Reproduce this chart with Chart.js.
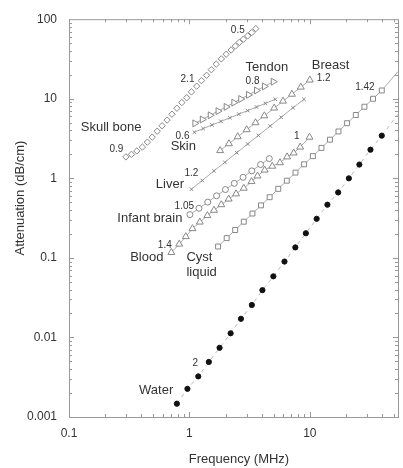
<!DOCTYPE html>
<html>
<head>
<meta charset="utf-8">
<script src="https://cdn.jsdelivr.net/npm/chart.js@4.4.1/dist/chart.umd.min.js"></script>
<style>
  html, body { margin: 0; padding: 0; background: #fff; }
</style>
</head>
<body>
<canvas id="myChart" width="403" height="468"></canvas>
<script>
// tick labels
const xTicks = [0.1, 1, 10];
const yTicks = [0.001, 0.01, 0.1, 1, 10, 100];

// attenuation data (frequency in MHz, attenuation in dB/cm)
const skullFreq = [0.297, 0.330, 0.366, 0.407, 0.447, 0.491, 0.540, 0.593, 0.652, 0.716, 0.787, 0.865, 0.950, 1.04,
  1.15, 1.26, 1.39, 1.52, 1.67, 1.84, 2.02, 2.22, 2.41, 2.60, 2.81, 3.05, 3.30, 3.56];
const skullAtten = [1.86, 2.00, 2.21, 2.47, 2.85, 3.29, 3.91, 4.58, 5.40, 6.40, 7.60, 8.95, 10.3, 12.2,
  14.4, 16.9, 19.7, 23.2, 27.2, 31.7, 36.3, 41.0, 46.0, 51.1, 56.1, 61.7, 68.0, 76.2];

const tendonFreq = [1.11, 1.28, 1.49, 1.73, 2.02, 2.34, 2.67, 3.10, 3.61, 4.20, 4.97];
const tendonAtten = [4.91, 5.49, 6.20, 7.00, 7.90, 8.94, 9.93, 11.2, 12.7, 14.3, 16.4];

const skinFreq = [1.10, 1.30, 1.54, 1.83, 2.17, 2.57, 3.05, 3.61, 4.28, 5.17];
const skinAtten = [3.80, 4.22, 4.68, 5.20, 5.76, 6.41, 7.10, 7.88, 8.76, 9.85];

const breastFreq = [1.80, 2.13, 2.52, 2.99, 3.54, 4.19, 5.06, 5.99, 7.10, 8.42, 10.0];
const breastAtten = [2.23, 2.72, 3.33, 4.08, 5.00, 6.11, 7.64, 9.34, 11.4, 14.0, 17.2];

const liverFreq = [1.04, 1.28, 1.60, 1.97, 2.47, 3.05, 3.74, 4.69, 5.78, 7.25, 8.94];
const liverAtten = [0.730, 0.939, 1.24, 1.59, 2.10, 2.70, 3.46, 4.55, 5.85, 7.71, 9.83];

const brainFreq = [1.01, 1.20, 1.42, 1.68, 1.99, 2.36, 2.79, 3.30, 3.90, 4.61];
const brainAtten = [0.350, 0.420, 0.502, 0.603, 0.722, 0.864, 1.03, 1.24, 1.49, 1.77];

const bloodFreq = [0.708, 0.823, 0.933, 1.06, 1.22, 1.41, 1.60, 1.84, 2.12, 2.44,
  2.83, 3.28, 3.68, 4.22, 4.88, 5.65, 6.48, 7.35, 8.32, 9.94];
const bloodAtten = [0.117, 0.149, 0.185, 0.233, 0.282, 0.340, 0.397, 0.466, 0.549, 0.638,
  0.751, 0.910, 1.07, 1.27, 1.42, 1.57, 1.86, 2.08, 2.47, 3.29];

const cystFreq = [1.73, 2.04, 2.40, 2.83, 3.34, 3.93, 4.64, 5.47, 6.44, 7.60,
  8.96, 10.6, 12.5, 14.7, 17.3, 20.4, 24.1, 28.4, 33.5, 39.6];
const cystAtten = [0.139, 0.177, 0.224, 0.285, 0.361, 0.457, 0.579, 0.737, 0.934, 1.18,
  1.50, 1.90, 2.41, 3.06, 3.88, 4.93, 6.25, 7.94, 10.0, 12.7];
const cystFitFreq = [39.6, 54];
const cystFitAtten = [12.7, 22];

const waterFreq = [0.787, 0.963, 1.185, 1.45, 1.78, 2.20, 2.68, 3.30, 4.04, 4.98,
  6.16, 7.58, 9.27, 11.4, 14.0, 17.2, 21.1, 25.8, 31.9, 39.6];
const waterAtten = [0.00147, 0.00226, 0.00324, 0.00492, 0.00741, 0.01128, 0.01715, 0.0256, 0.0393, 0.0586,
  0.0899, 0.1354, 0.204, 0.310, 0.466, 0.665, 1.0, 1.49, 2.29, 3.44];
const waterFitFreq = [39.6, 54];
const waterFitAtten = [3.44, 6.4];

// annotation texts: [text, freq, atten, size]
const notes = [
  ["Skull bone", 0.1254, 4.42, 13], ["0.9", 0.217, 2.29, 10], ["2.1", 0.844, 17.4, 10], ["0.5", 2.21, 72.6, 10],
  ["Tendon", 2.93, 24.5, 13], ["0.8", 2.93, 16.4, 10],
  ["Breast", 10.4, 26.0, 13], ["1.2", 11.4, 17.9, 10],
  ["1.42", 23.8, 13.8, 10], ["1", 7.39, 3.42, 10],
  ["0.6", 0.768, 3.42, 10], ["Skin", 0.699, 2.49, 13],
  ["1.2", 0.910, 1.15, 10], ["Liver", 0.526, 0.843, 13],
  ["1.05", 0.753, 0.450, 10], ["Infant brain", 0.252, 0.310, 13],
  ["1.4", 0.547, 0.143, 10], ["Blood", 0.322, 0.102, 13],
  ["Cyst", 0.945, 0.102, 13], ["liquid", 0.945, 0.0663, 13],
  ["2", 1.06, 0.00479, 10], ["Water", 0.382, 0.00215, 13]
];

const FONT = "'Liberation Sans', Arial, sans-serif";
const MARK = "#888";
const LINE = "#aaa";

function pts(fs, as) {
  return fs.map((f, i) => ({ x: f, y: as[i] }));
}

function series(label, fs, as, style, extra) {
  return Object.assign({
    label: label,
    data: pts(fs, as),
    showLine: true,
    borderColor: LINE,
    borderWidth: 1,
    pointStyle: style,
    pointRadius: 3,
    pointBorderColor: MARK,
    pointBackgroundColor: "#fff",
    pointBorderWidth: 1,
  }, extra || {});
}

const frame = {
  id: "frame",
  afterDraw(chart) {
    const { ctx, chartArea: a, scales: { x, y } } = chart;
    ctx.save();
    ctx.strokeStyle = "#999";
    ctx.lineWidth = 1;
    ctx.strokeRect(a.left + 0.5, a.top + 0.5, a.right - a.left, a.bottom - a.top);
    ctx.beginPath();
    for (let d = 0.1; d < 100; d *= 10) {
      for (let m = 1; m < 10; m++) {
        const v = d * m;
        if (v < x.min || v > x.max) continue;
        const px = Math.round(x.getPixelForValue(v)) + 0.5;
        const len = m === 1 ? 5 : 3;
        ctx.moveTo(px, a.bottom); ctx.lineTo(px, a.bottom - len);
        ctx.moveTo(px, a.top); ctx.lineTo(px, a.top + len);
      }
    }
    for (let d = 0.001; d < 100; d *= 10) {
      for (let m = 1; m < 10; m++) {
        const v = d * m;
        if (v < y.min * 0.999 || v > y.max * 1.001) continue;
        const py = Math.round(y.getPixelForValue(v)) + 0.5;
        const len = m === 1 ? 5 : 3;
        ctx.moveTo(a.left, py); ctx.lineTo(a.left + len, py);
        ctx.moveTo(a.right, py); ctx.lineTo(a.right - len, py);
      }
    }
    ctx.stroke();

    // texts
    ctx.fillStyle = "#333";
    ctx.textBaseline = "middle";
    ctx.textAlign = "left";
    notes.forEach(([t, f, v, s]) => {
      ctx.font = s + "px " + FONT;
      ctx.fillText(t, x.getPixelForValue(f), y.getPixelForValue(v));
    });
    ctx.font = "13px " + FONT;
    ctx.textAlign = "center";
    ctx.fillText("Frequency (MHz)", 239, 459);
    ctx.translate(20, 198);
    ctx.rotate(-Math.PI / 2);
    ctx.fillText("Attenuation (dB/cm)", 0, 0);
    ctx.restore();
  }
};

const ctx = document.getElementById("myChart").getContext("2d");
const myChart = new Chart(ctx, {
  type: "scatter",
  data: {
    datasets: [
      series("Skull bone", skullFreq, skullAtten, "rectRot", { pointRadius: 3.2, borderColor: "rgba(0,0,0,0)" }),
      series("Tendon", tendonFreq, tendonAtten, "triangle", { pointRadius: 4, pointRotation: 90 }),
      series("Skin", skinFreq, skinAtten, "crossRot", { pointRadius: 2.5 }),
      series("Breast", breastFreq, breastAtten, "triangle", { pointRadius: 4 }),
      series("Liver", liverFreq, liverAtten, "crossRot", { pointRadius: 2.5 }),
      series("Infant brain", brainFreq, brainAtten, "circle", { pointRadius: 3 }),
      series("Blood", bloodFreq, bloodAtten, "triangle", { pointRadius: 4 }),
      series("Cyst liquid", cystFreq, cystAtten, "rect", { pointRadius: 3.5 }),
      series("Cyst fit", cystFitFreq, cystFitAtten, "circle", { pointRadius: 0 }),
      series("Water", waterFreq, waterAtten, "circle", {
        pointRadius: 2.6, pointBorderColor: "#111", pointBackgroundColor: "#111",
        borderColor: "#bbb", borderDash: [4, 4]
      }),
      series("Water fit", waterFitFreq, waterFitAtten, "circle", {
        pointRadius: 0, borderColor: "#bbb", borderDash: [4, 4]
      }),
    ],
  },
  options: {
    responsive: false,
    animation: false,
    layout: { padding: { top: 14, right: 1, left: 0, bottom: 0 } },
    plugins: { legend: { display: false }, tooltip: { enabled: false } },
    scales: {
      x: {
        type: "logarithmic",
        min: 0.1,
        max: 54,
        afterFit: (s) => { s.height = 51; },
        afterBuildTicks: (s) => { s.ticks = xTicks.map((v) => ({ value: v })); },
        grid: { display: false, drawTicks: false },
        border: { display: false },
        ticks: {
          autoSkip: false, maxRotation: 0, padding: 9, color: "#333",
          font: { family: FONT, size: 12 },
          callback: (v) => String(v),
        },
      },
      y: {
        type: "logarithmic",
        min: 0.001,
        max: 100,
        afterFit: (s) => { s.width = 69; },
        afterBuildTicks: (s) => { s.ticks = yTicks.map((v) => ({ value: v })); },
        grid: { display: false, drawTicks: false },
        border: { display: false },
        ticks: {
          autoSkip: false, padding: 12, color: "#333",
          font: { family: FONT, size: 12 },
          callback: (v) => String(v),
        },
      },
    },
  },
  plugins: [frame],
});
</script>
</body>
</html>
